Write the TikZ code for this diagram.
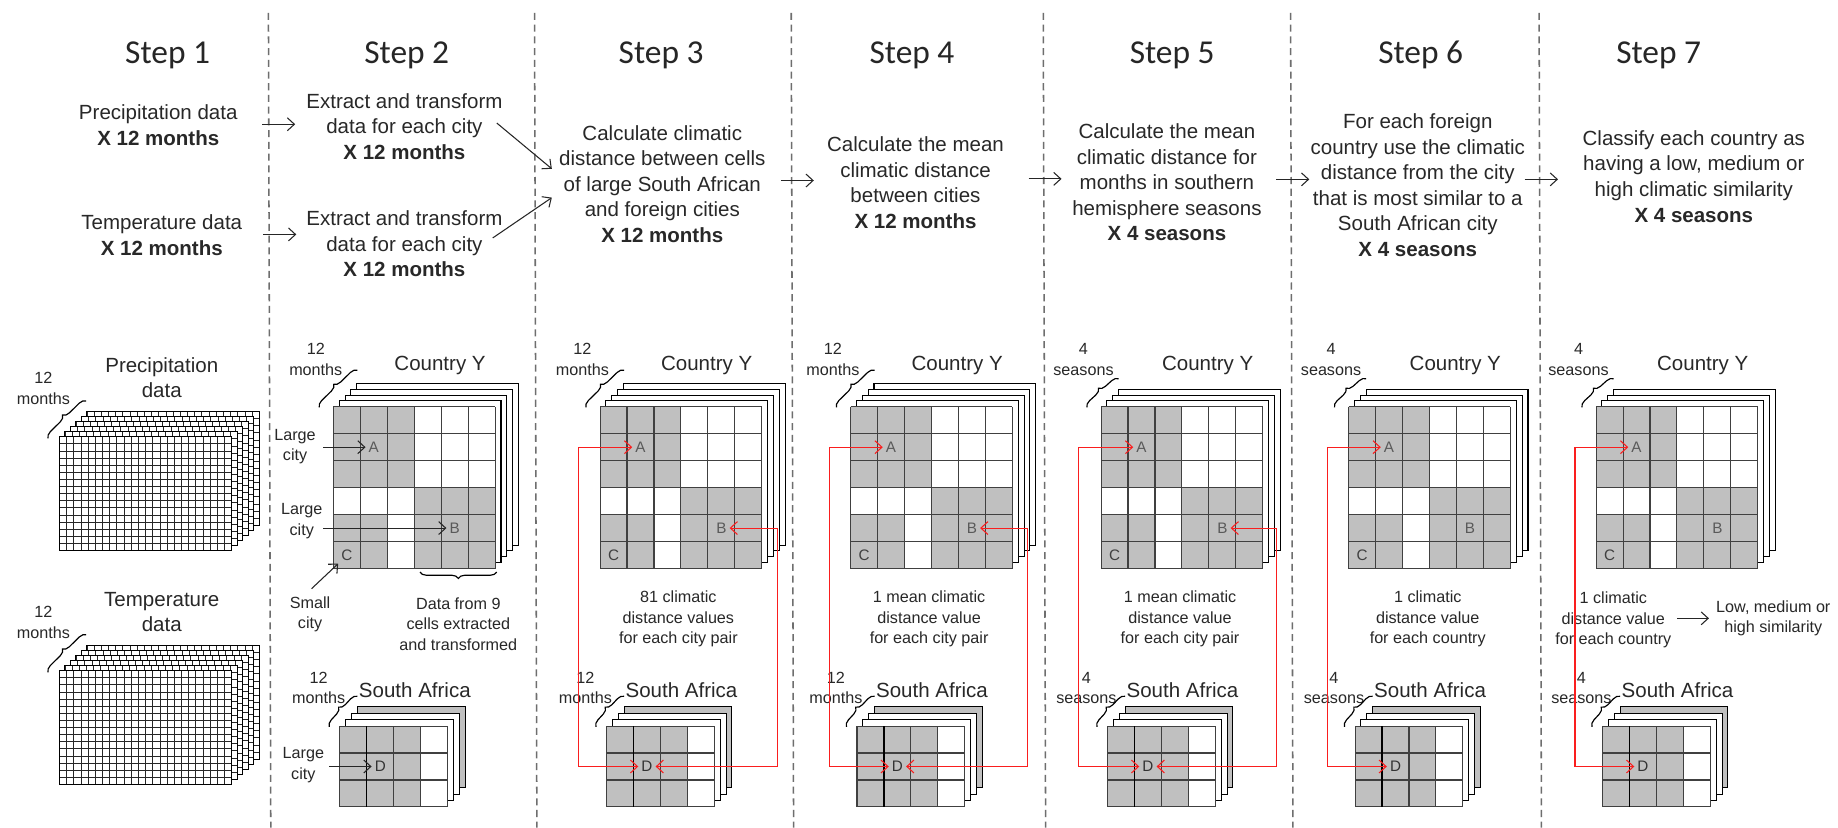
\documentclass[tikz,border=0pt]{standalone}
\usepackage{fontspec}
\setmainfont{Liberation Sans}
\newfontfamily\stepfam{Carlito}
\usetikzlibrary{arrows.meta,decorations.pathreplacing,calc}
\definecolor{cellgray}{RGB}{192,192,192}
\definecolor{txt}{RGB}{40,40,40}
\definecolor{divgray}{RGB}{110,110,110}
\definecolor{lettergray}{RGB}{90,90,90}
\definecolor{arrred}{RGB}{250,30,30}
\newcommand\myBody{\fontsize{17.5}{21.8}\selectfont}
\newcommand\mySmall{\fontsize{13.8}{17.6}\selectfont}
\newcommand\myStep{\stepfam\fontsize{28.5}{32}\selectfont}
\newcommand\myLetter{\fontsize{13}{15}\selectfont}
\tikzset{
  body/.style={font=\myBody, text=txt, align=center, inner sep=0pt},
  smalltxt/.style={font=\mySmall, text=txt, align=center, inner sep=0pt},
  stephead/.style={font=\myStep, text=black!85, inner sep=0pt},
  letter/.style={font=\myLetter, text=lettergray, inner sep=2.5pt},
  gline/.style={draw=black!75, line width=0.9pt},
  fline/.style={draw=black!85, line width=0.45pt},
  fedge/.style={draw=black, line width=0.8pt},
  layer/.style={draw=black, line width=0.9pt, fill=white},
  arr/.style={draw=black!85, line width=0.9pt, -{Straight Barb[length=6pt,width=11pt]}},
  redarr/.style={draw=arrred, line width=0.9pt, {Straight Barb[length=6pt,width=11pt]}-{Straight Barb[length=6pt,width=11pt]}},
  brace/.style={draw=black, line width=1pt, decorate, decoration={brace, amplitude=5.5pt}},
  divider/.style={draw=divgray, line width=1.3pt, dash pattern=on 6pt off 4pt},
}
% fine gridded stack of step 1: #1 = top of front layer
\newcommand\finestack[1]{%
  \foreach \k in {5,4,3,2,1,0} {%
    \begin{scope}[shift={({50.6+4.7*\k},{#1-4.3*\k})}]
      \fill[white] (0,0) rectangle (147,97);
      \foreach \i in {0,...,24} \draw[fline] ({\i*6.125},0) -- ++(0,97);
      \foreach \j in {0,...,16} \draw[fline] (0,{\j*6.0625}) -- ++(147,0);
      \draw[fedge] (0,0) rectangle (147,97);
    \end{scope}
  }%
  \draw[brace] (41,{#1+1.5}) -- (73.5,{#1-30.5});
}
% Country Y stack: #1 x, #2 id, #3 layers, #4 #5 label lines
\newcommand\cystack[5]{%
  \foreach \k in {#3,...,1} \draw[layer] ({#1+5*\k},{347-5*\k}) rectangle ++(138,138);
  \fill[white] (#1,347) rectangle ++(138,138);
  \foreach \cc/\rr in {0/0,1/0,2/0,0/1,1/1,2/1,0/2,1/2,2/2,3/3,4/3,5/3,0/4,1/4,3/4,4/4,5/4,0/5,1/5,3/5,4/5,5/5}
    \fill[cellgray] ({#1+23*\cc},{347+23*\rr}) rectangle ++(23,23);
  \foreach \i in {0,...,6} {\draw[gline] ({#1+23*\i},347) -- ++(0,138); \draw[gline] (#1,{347+23*\i}) -- ++(138,0);}
  \node[letter] (A#2) at ({#1+34.5},381.5) {A};
  \node[letter] (B#2) at ({#1+103.5},450.5) {B};
  \node[letter, text=black!75] (C#2) at ({#1+11.5},473.5) {C};
  \node[body] (CY#2) at ({#1+91},311.4) {Country Y};
  \node[smalltxt] (cyl#2) at ({#1-15},306.5) {#4\\#5};
  \draw[brace] ({#1-12},347.5) -- ({#1-1.5+5.5*#3},{345-7.3*#3});
}
% South Africa stack: #1 x, #2 id, #3 #4 label lines
\newcommand\sastack[4]{%
  \draw[layer, fill=cellgray] ({#1+15},{619.4-16.5}) rectangle ++(92,69);
  \draw[layer] ({#1+10},{619.4-11}) rectangle ++(92,69);
  \draw[layer] ({#1+5},{619.4-5.5}) rectangle ++(92,69);
  \fill[cellgray] (#1,619.4) rectangle ++(69,69);
  \fill[white] ({#1+69},619.4) rectangle ++(23,69);
  \foreach \i in {0,...,4} \draw[gline] ({#1+23*\i},619.4) -- ++(0,69);
  \foreach \j in {0,...,3} \draw[gline] (#1,{619.4+23*\j}) -- ++(92,0);
  \draw[draw=black, line width=1.2pt] ({#1+23},619.4) -- ++(0,69);
  \node[letter, text=black!80] (D#2) at ({#1+34.5},653.9) {D};
  \node[body] (SA#2) at ({#1+64},588.6) {South Africa};
  \node[smalltxt] (sal#2) at ({#1-18},587) {#3\\#4};
  \draw[brace] ({#1-9},620) -- ({#1+15},594);
}
\begin{document}
\begin{tikzpicture}[x=1pt,y=-1pt]
\useasboundingbox (0,0) rectangle (1568,706);
\fill[white] (0,0) rectangle (1568,706);
% dividers
\foreach \xx in {229,456,675,890,1101,1313} \draw[divider] (\xx,11) -- ({\xx+2},706);
% step headers
\node[stephead] (h1) at (143,47) {Step 1};
\node[stephead] (h2) at (347,47) {Step 2};
\node[stephead] (h3) at (564,47) {Step 3};
\node[stephead] (h4) at (778,47) {Step 4};
\node[stephead] (h5) at (1000,47) {Step 5};
\node[stephead] (h6) at (1212,47) {Step 6};
\node[stephead] (h7) at (1415,47) {Step 7};
% header texts
\node[body] (s1p) at (135,107) {Precipitation data\\\textbf{X 12 months}};
\node[body] (s1t) at (138,200.5) {Temperature data\\\textbf{X 12 months}};
\node[body] (s2a) at (345,108) {Extract and transform\\data for each city\\\textbf{X 12 months}};
\node[body] (s2b) at (345,208) {Extract and transform\\data for each city\\\textbf{X 12 months}};
\node[body] (s3) at (565,157) {Calculate climatic\\distance between cells\\of large South African\\and foreign cities\\\textbf{X 12 months}};
\node[body] (s4) at (781,156) {Calculate the mean\\climatic distance\\between cities\\\textbf{X 12 months}};
\node[body] (s5) at (995.5,155.6) {Calculate the mean\\climatic distance for\\months in southern\\hemisphere seasons\\\textbf{X 4 seasons}};
\node[body] (s6) at (1209.5,158) {For each foreign\\country use the climatic\\distance from the city\\that is most similar to a\\South African city\\\textbf{X 4 seasons}};
\node[body] (s7) at (1445,150.5) {Classify each country as\\having a low, medium or\\high climatic similarity\\\textbf{X 4 seasons}};
% header arrows
\draw[arr] ($(s1p.east)+(21,-1)$) -- ($(s1p.east)+(49,-1)$);
\draw[arr] ($(s1t.east)+(18,-0.5)$) -- ($(s1t.east)+(46,-0.5)$);
\draw[arr] ($(s2a.east)+(-5,-3)$) -- ($(s3.west)+(-6,-13)$);
\draw[arr] ($(s2b.east)+(-8.5,-5)$) -- ($(s3.west)+(-6,11.6)$);
\draw[arr] ($(s3.east)+(13,-3)$) -- ($(s3.east)+(41,-3)$);
\draw[arr] ($(s4.east)+(21,-3.4)$) -- ($(s4.east)+(49,-3.4)$);
\draw[arr] ($(s5.east)+(12.5,-2.6)$) -- ($(s5.east)+(40.5,-2.6)$);
\draw[arr] ($(s6.east)+(-0.5,-5)$) -- ($(s6.east)+(28,-5)$);
% step 1 stacks
\finestack{372.5}
\node[body] (pd) at (138,322) {Precipitation\\data};
\node[smalltxt] (pm) at (37,331.3) {12\\months};
\finestack{572}
\node[body] (td) at (138,522) {Temperature\\data};
\node[smalltxt] (tm) at (37,531) {12\\months};
% step 2
\cystack{284.4}{2}{4}{12}{months}
\sastack{289.9}{2}{12}{months}
\node[smalltxt] (lc1) at (251.7,381) {Large\\city};
\draw[arr] ($(A2.west)+(-36,0)$) -- (A2.west);
\node[smalltxt] (lc2) at (257.4,444.3) {Large\\city};
\draw[arr] ($(B2.west)+(-105,0)$) -- (B2.west);
\node[smalltxt] (sc) at (264.5,524) {Small\\city};
\draw[arr] ($(C2.south west)+(-22.7,21.4)$) -- (C2.south west);
\draw[brace] (423.7,488) -- (358.3,488);
\node[smalltxt] (dn) at (391,532.5) {Data from 9\\cells extracted\\and transformed};
\node[smalltxt] (lc3) at (258.8,652.6) {Large\\city};
\draw[arr] ($(D2.west)+(-36,0)$) -- (D2.west);
% step 3
\cystack{511.9}{3}{4}{12}{months}
\sastack{517.4}{3}{12}{months}
\node[smalltxt] (v3) at (578.7,528) {81 climatic\\distance values\\for each city pair};
\coordinate (L3) at (493.9,0);
\coordinate (R3) at (662.9,0);
\draw[redarr] (A3.west) -- (A3.west -| L3) -- (D3.west -| L3) -- (D3.west);
\draw[redarr] (B3.east) -- (B3.east -| R3) -- (D3.east -| R3) -- (D3.east);
% step 4
\cystack{725.6}{4}{4}{12}{months}
\sastack{731.1}{4}{12}{months}
\node[smalltxt] (v4) at (792.6,528) {1 mean climatic\\distance value\\for each city pair};
\coordinate (L4) at (707.6,0);
\coordinate (R4) at (876.6,0);
\draw[redarr] (A4.west) -- (A4.west -| L4) -- (D4.west -| L4) -- (D4.west);
\draw[redarr] (B4.east) -- (B4.east -| R4) -- (D4.east -| R4) -- (D4.east);
% step 5
\cystack{939.3}{5}{3}{4}{seasons}
\sastack{944.8}{5}{4}{seasons}
\node[smalltxt] (v5) at (1006.7,528) {1 mean climatic\\distance value\\for each city pair};
\coordinate (L5) at (920.3,0);
\coordinate (R5) at (1089.3,0);
\draw[redarr] (A5.west) -- (A5.west -| L5) -- (D5.west -| L5) -- (D5.west);
\draw[redarr] (B5.east) -- (B5.east -| R5) -- (D5.east -| R5) -- (D5.east);
% step 6
\cystack{1150.5}{6}{3}{4}{seasons}
\sastack{1156}{6}{4}{seasons}
\node[smalltxt] (v6) at (1218,528) {1 climatic\\distance value\\for each country};
\coordinate (L6) at (1132.5,0);
\draw[redarr] (A6.west) -- (A6.west -| L6) -- (D6.west -| L6) -- (D6.west);
% step 7
\cystack{1361.6}{7}{3}{4}{seasons}
\sastack{1367.1}{7}{4}{seasons}
\node[smalltxt] (v7) at (1376.3,529) {1 climatic\\distance value\\for each country};
\node[smalltxt] (lm7) at (1512.8,527.5) {Low, medium or\\high similarity};
\draw[arr] ($(lm7.west)+(-33,0)$) -- ($(lm7.west)+(-6,0)$);
\coordinate (L7) at (1343.6,0);
\draw[redarr] (A7.west) -- (A7.west -| L7) -- (D7.west -| L7) -- (D7.west);
\end{tikzpicture}
\end{document}
